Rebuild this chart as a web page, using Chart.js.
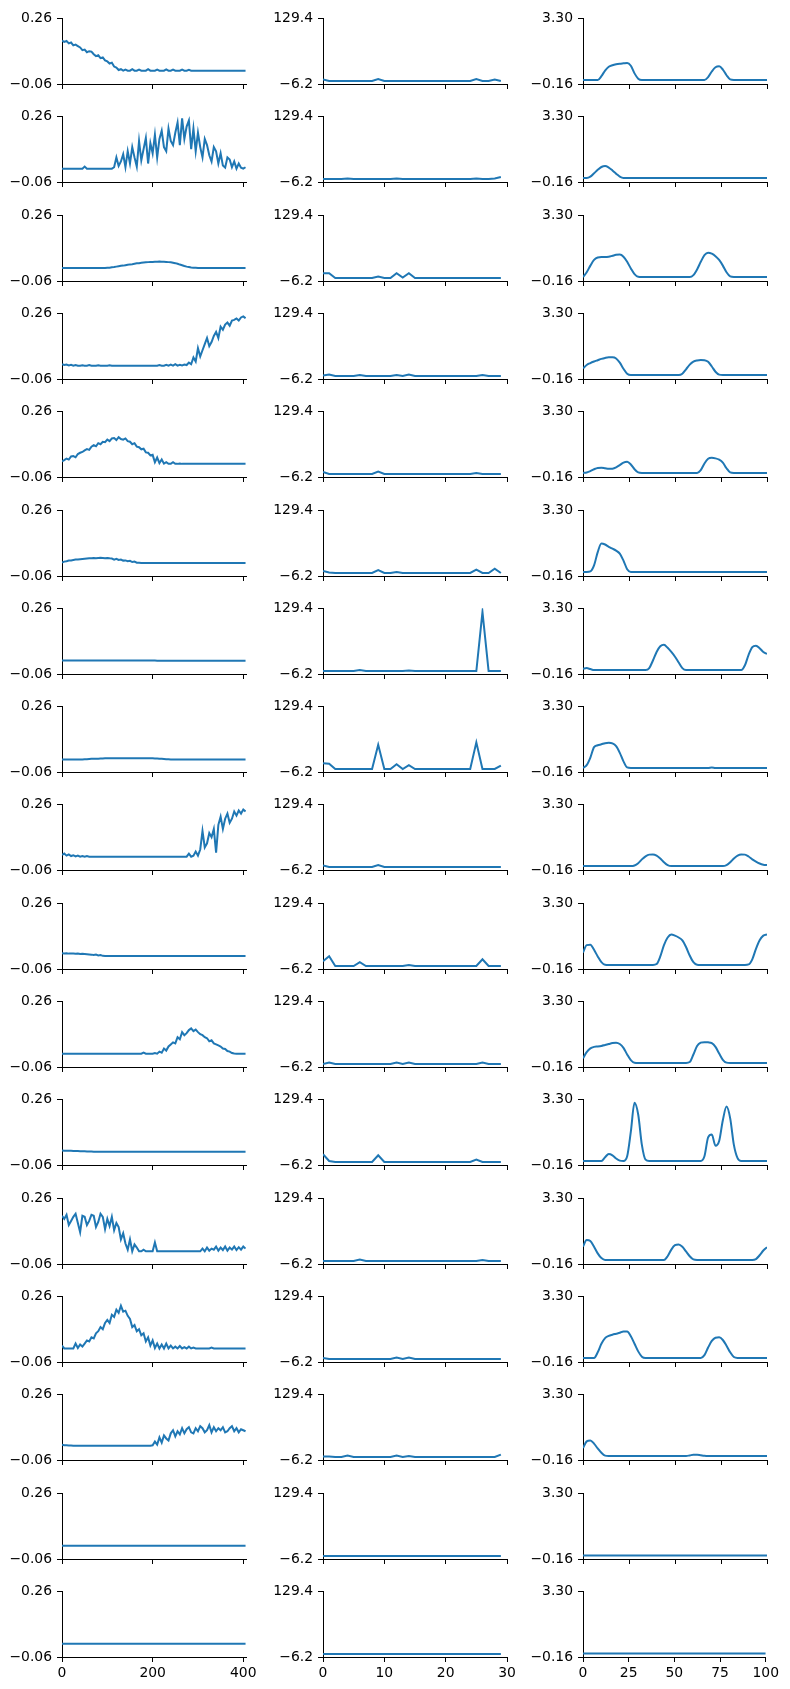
<!DOCTYPE html>
<html>
<head>
<meta charset="utf-8">
<script src="https://cdn.jsdelivr.net/npm/chart.js@4.4.1/dist/chart.umd.min.js"></script>
<style>
  body { margin: 0; background: #fff; }
  #board { position: relative; width: 790px; height: 1689px; overflow: hidden; }
  #board canvas { position: absolute; }
</style>
</head>
<body>
<div id="board"></div>
<script>
// ---- tick labels ----
const leftXTicks = [0, 200, 400];
const midXTicks = [0, 10, 20, 30];
const rightXTicks = [0, 25, 50, 75, 100];
const leftYTicks = [-0.06, 0.26];
const midYTicks = [-6.2, 129.4];
const rightYTicks = [-0.16, 3.30];
const leftYText = ['\u22120.06', '0.26'];
const midYText = ['\u22126.2', '129.4'];
const rightYText = ['\u22120.16', '3.30'];

// ---- left column: one value every 5 steps, x = 0..405 ----
const left01 = [
  0.152,0.145,0.150,0.138,0.142,0.128,0.132,0.125,0.118,0.105,
  0.108,0.095,0.100,0.098,0.085,0.076,0.080,0.066,0.070,0.055,
  0.050,0.040,0.044,0.025,0.020,0.008,0.012,0.005,0.010,0.005,
  0.005,0.012,0.005,0.005,0.010,0.005,0.005,0.005,0.012,0.005,
  0.005,0.005,0.010,0.005,0.005,0.005,0.011,0.005,0.005,0.010,
  0.005,0.005,0.005,0.010,0.005,0.005,0.009,0.005,0.005,0.005,
  0.005,0.005,0.005,0.005,0.005,0.005,0.005,0.005,0.005,0.005,
  0.005,0.005,0.005,0.005,0.005,0.005,0.005,0.005,0.005,0.005,
  0.005,0.005];
const left02 = [
  0.005,0.005,0.005,0.005,0.005,0.005,0.005,0.005,0.005,0.005,
  0.015,0.005,0.005,0.005,0.005,0.005,0.005,0.005,0.005,0.005,
  0.005,0.005,0.005,0.012,0.060,0.018,0.040,0.075,0.012,0.090,
  0.030,0.110,0.060,0.015,0.140,0.045,0.100,0.155,0.030,0.130,
  0.080,0.170,0.060,0.150,0.190,0.110,0.090,0.200,0.140,0.120,
  0.180,0.230,0.120,0.250,0.150,0.210,0.240,0.100,0.200,0.090,
  0.180,0.110,0.060,0.150,0.120,0.070,0.040,0.110,0.090,0.030,
  0.080,0.020,0.010,0.060,0.050,0.012,0.040,0.005,0.030,0.010,
  0.005,0.012];
const left03 = [
  0.003,0.003,0.003,0.003,0.003,0.003,0.003,0.003,0.003,0.003,
  0.003,0.003,0.003,0.003,0.003,0.003,0.003,0.003,0.003,0.003,
  0.004,0.005,0.007,0.008,0.010,0.012,0.014,0.015,0.017,0.019,
  0.021,0.022,0.024,0.026,0.027,0.029,0.030,0.031,0.032,0.033,
  0.033,0.034,0.034,0.035,0.034,0.034,0.033,0.032,0.031,0.029,
  0.027,0.024,0.020,0.017,0.013,0.010,0.008,0.006,0.005,0.004,
  0.003,0.003,0.003,0.003,0.003,0.003,0.003,0.003,0.003,0.003,
  0.003,0.003,0.003,0.003,0.003,0.003,0.003,0.003,0.003,0.003,
  0.003,0.003];
const left04 = [
  0.012,0.008,0.010,0.006,0.009,0.005,0.008,0.005,0.005,0.007,
  0.005,0.005,0.008,0.005,0.005,0.005,0.007,0.005,0.005,0.005,
  0.005,0.007,0.005,0.005,0.005,0.005,0.005,0.005,0.005,0.005,
  0.005,0.005,0.005,0.005,0.005,0.005,0.005,0.005,0.005,0.005,
  0.005,0.005,0.005,0.008,0.005,0.005,0.009,0.005,0.010,0.005,
  0.012,0.005,0.009,0.006,0.010,0.008,0.020,0.012,0.045,0.025,
  0.090,0.050,0.080,0.110,0.140,0.100,0.120,0.150,0.170,0.140,
  0.195,0.180,0.205,0.215,0.200,0.225,0.228,0.235,0.225,0.240,
  0.245,0.236];
const left05 = [
  0.016,0.022,0.030,0.025,0.040,0.042,0.036,0.052,0.058,0.062,
  0.070,0.076,0.072,0.088,0.095,0.090,0.105,0.100,0.112,0.110,
  0.122,0.115,0.128,0.130,0.120,0.134,0.125,0.122,0.128,0.115,
  0.112,0.100,0.105,0.088,0.085,0.075,0.078,0.060,0.058,0.045,
  0.048,0.012,0.035,0.008,0.025,0.005,0.012,0.004,0.004,0.012,
  0.004,0.004,0.006,0.004,0.004,0.004,0.004,0.004,0.004,0.004,
  0.004,0.004,0.004,0.004,0.004,0.004,0.004,0.004,0.004,0.004,
  0.004,0.004,0.004,0.004,0.004,0.004,0.004,0.004,0.004,0.004,
  0.004,0.004];
const left06 = [
  0.006,0.010,0.012,0.015,0.016,0.018,0.020,0.021,0.022,0.023,
  0.024,0.025,0.026,0.027,0.028,0.027,0.028,0.029,0.028,0.027,
  0.028,0.026,0.025,0.020,0.024,0.018,0.020,0.015,0.016,0.012,
  0.014,0.008,0.010,0.005,0.004,0.003,0.003,0.003,0.003,0.003,
  0.003,0.003,0.003,0.003,0.003,0.003,0.003,0.003,0.003,0.003,
  0.003,0.003,0.003,0.003,0.003,0.003,0.003,0.003,0.003,0.003,
  0.003,0.003,0.003,0.003,0.003,0.003,0.003,0.003,0.003,0.003,
  0.003,0.003,0.003,0.003,0.003,0.003,0.003,0.003,0.003,0.003,
  0.003,0.003];
const left07 = [
  0.006,0.006,0.006,0.006,0.006,0.006,0.006,0.006,0.006,0.006,
  0.006,0.006,0.006,0.006,0.006,0.006,0.006,0.006,0.006,0.006,
  0.006,0.006,0.006,0.006,0.006,0.006,0.006,0.006,0.006,0.006,
  0.006,0.006,0.006,0.006,0.006,0.006,0.006,0.006,0.006,0.006,
  0.006,0.006,0.005,0.005,0.005,0.005,0.004,0.004,0.004,0.004,
  0.004,0.004,0.004,0.004,0.004,0.004,0.004,0.004,0.004,0.004,
  0.004,0.004,0.004,0.004,0.004,0.004,0.004,0.004,0.004,0.004,
  0.004,0.004,0.004,0.004,0.004,0.004,0.004,0.004,0.004,0.004,
  0.004,0.004];
const left08 = [
  0.001,0.001,0.001,0.001,0.001,0.001,0.001,0.001,0.001,0.001,
  0.002,0.002,0.003,0.004,0.004,0.005,0.005,0.006,0.006,0.007,
  0.007,0.007,0.007,0.007,0.007,0.007,0.007,0.007,0.007,0.007,
  0.007,0.007,0.007,0.007,0.007,0.007,0.007,0.007,0.007,0.007,
  0.007,0.006,0.006,0.005,0.004,0.003,0.002,0.002,0.001,0.001,
  0.001,0.001,0.001,0.001,0.001,0.001,0.001,0.001,0.001,0.001,
  0.001,0.001,0.001,0.001,0.001,0.001,0.001,0.001,0.001,0.001,
  0.001,0.001,0.001,0.001,0.001,0.001,0.001,0.001,0.001,0.001,
  0.001,0.001];
const left09 = [
  0.014,0.020,0.010,0.016,0.008,0.012,0.006,0.010,0.005,0.008,
  0.005,0.008,0.005,0.005,0.005,0.005,0.005,0.005,0.005,0.005,
  0.005,0.005,0.005,0.005,0.005,0.005,0.005,0.005,0.005,0.005,
  0.005,0.005,0.005,0.005,0.005,0.005,0.005,0.005,0.005,0.005,
  0.005,0.005,0.005,0.005,0.005,0.005,0.005,0.005,0.005,0.005,
  0.005,0.005,0.005,0.005,0.005,0.005,0.020,0.005,0.010,0.030,
  0.010,0.040,0.130,0.050,0.070,0.120,0.100,0.140,0.025,0.160,
  0.200,0.140,0.190,0.215,0.170,0.190,0.225,0.205,0.230,0.215,
  0.235,0.225];
const left10 = [
  0.017,0.016,0.017,0.015,0.016,0.015,0.014,0.015,0.013,0.014,
  0.013,0.012,0.011,0.010,0.008,0.010,0.006,0.008,0.004,0.003,
  0.003,0.003,0.003,0.003,0.003,0.003,0.003,0.003,0.003,0.003,
  0.003,0.003,0.003,0.003,0.003,0.003,0.003,0.003,0.003,0.003,
  0.003,0.003,0.003,0.003,0.003,0.003,0.003,0.003,0.003,0.003,
  0.003,0.003,0.003,0.003,0.003,0.003,0.003,0.003,0.003,0.003,
  0.003,0.003,0.003,0.003,0.003,0.003,0.003,0.003,0.003,0.003,
  0.003,0.003,0.003,0.003,0.003,0.003,0.003,0.003,0.003,0.003,
  0.003,0.003];
const left11 = [
  0.005,0.005,0.005,0.005,0.005,0.005,0.005,0.005,0.005,0.005,
  0.005,0.005,0.005,0.005,0.005,0.005,0.005,0.005,0.005,0.005,
  0.005,0.005,0.005,0.005,0.005,0.005,0.005,0.005,0.005,0.005,
  0.005,0.005,0.005,0.005,0.005,0.005,0.010,0.005,0.005,0.005,
  0.005,0.008,0.005,0.015,0.010,0.030,0.020,0.040,0.050,0.060,
  0.055,0.085,0.075,0.110,0.095,0.105,0.120,0.128,0.115,0.122,
  0.110,0.100,0.095,0.085,0.080,0.065,0.070,0.055,0.050,0.045,
  0.040,0.030,0.028,0.018,0.015,0.008,0.006,0.005,0.005,0.005,
  0.005,0.005];
const left12 = [
  0.011,0.010,0.010,0.009,0.009,0.008,0.008,0.008,0.007,0.007,
  0.007,0.006,0.006,0.006,0.005,0.005,0.005,0.005,0.005,0.004,
  0.004,0.004,0.004,0.004,0.004,0.004,0.004,0.004,0.004,0.004,
  0.004,0.004,0.004,0.004,0.004,0.004,0.004,0.004,0.004,0.004,
  0.004,0.004,0.004,0.004,0.004,0.004,0.004,0.004,0.004,0.004,
  0.004,0.004,0.004,0.004,0.004,0.004,0.004,0.004,0.004,0.004,
  0.004,0.004,0.004,0.004,0.004,0.004,0.004,0.004,0.004,0.004,
  0.004,0.004,0.004,0.004,0.004,0.004,0.005,0.004,0.005,0.004,
  0.005,0.005];
const left13 = [
  0.175,0.160,0.180,0.130,0.150,0.170,0.185,0.140,0.095,0.175,
  0.170,0.130,0.150,0.180,0.175,0.120,0.145,0.185,0.170,0.110,
  0.160,0.125,0.170,0.105,0.140,0.120,0.060,0.090,0.040,0.010,
  0.060,0.002,0.035,0.020,0.002,0.002,0.010,0.002,0.002,0.002,
  0.002,0.045,0.002,0.002,0.002,0.002,0.002,0.002,0.002,0.002,
  0.002,0.002,0.002,0.002,0.002,0.002,0.002,0.002,0.002,0.002,
  0.002,0.002,0.015,0.002,0.020,0.005,0.015,0.010,0.025,0.005,
  0.020,0.008,0.025,0.005,0.020,0.010,0.025,0.008,0.022,0.010,
  0.025,0.015];
const left14 = [
  0.020,0.006,0.006,0.006,0.006,0.006,0.030,0.008,0.025,0.015,
  0.030,0.045,0.040,0.060,0.055,0.080,0.090,0.110,0.100,0.130,
  0.145,0.130,0.170,0.160,0.195,0.180,0.214,0.185,0.190,0.165,
  0.150,0.110,0.120,0.090,0.100,0.070,0.080,0.040,0.060,0.020,
  0.045,0.008,0.030,0.006,0.025,0.006,0.030,0.006,0.020,0.006,
  0.015,0.006,0.018,0.006,0.012,0.006,0.015,0.006,0.010,0.006,
  0.006,0.006,0.006,0.006,0.006,0.006,0.010,0.006,0.006,0.006,
  0.006,0.006,0.006,0.006,0.006,0.006,0.006,0.006,0.006,0.006,
  0.006,0.006];
const left15 = [
  0.015,0.012,0.012,0.011,0.011,0.010,0.010,0.010,0.010,0.010,
  0.010,0.010,0.010,0.010,0.010,0.010,0.010,0.010,0.010,0.010,
  0.010,0.010,0.010,0.010,0.010,0.010,0.010,0.010,0.010,0.010,
  0.010,0.010,0.010,0.010,0.010,0.010,0.010,0.010,0.010,0.010,
  0.012,0.030,0.015,0.050,0.025,0.060,0.045,0.035,0.070,0.085,
  0.055,0.080,0.065,0.095,0.070,0.090,0.100,0.075,0.070,0.095,
  0.080,0.105,0.095,0.075,0.085,0.110,0.075,0.100,0.080,0.095,
  0.085,0.100,0.075,0.080,0.095,0.105,0.080,0.095,0.075,0.090,
  0.085,0.080];
const left16 = [
  0.005,0.005,0.005,0.005,0.005,0.005,0.005,0.005,0.005,0.005,
  0.005,0.005,0.005,0.005,0.005,0.005,0.005,0.005,0.005,0.005,
  0.005,0.005,0.005,0.005,0.005,0.005,0.005,0.005,0.005,0.005,
  0.005,0.005,0.005,0.005,0.005,0.005,0.005,0.005,0.005,0.005,
  0.005,0.005,0.005,0.005,0.005,0.005,0.005,0.005,0.005,0.005,
  0.005,0.005,0.005,0.005,0.005,0.005,0.005,0.005,0.005,0.005,
  0.005,0.005,0.005,0.005,0.005,0.005,0.005,0.005,0.005,0.005,
  0.005,0.005,0.005,0.005,0.005,0.005,0.005,0.005,0.005,0.005,
  0.005,0.005];
const left17 = [
  0.005,0.005,0.005,0.005,0.005,0.005,0.005,0.005,0.005,0.005,
  0.005,0.005,0.005,0.005,0.005,0.005,0.005,0.005,0.005,0.005,
  0.005,0.005,0.005,0.005,0.005,0.005,0.005,0.005,0.005,0.005,
  0.005,0.005,0.005,0.005,0.005,0.005,0.005,0.005,0.005,0.005,
  0.005,0.005,0.005,0.005,0.005,0.005,0.005,0.005,0.005,0.005,
  0.005,0.005,0.005,0.005,0.005,0.005,0.005,0.005,0.005,0.005,
  0.005,0.005,0.005,0.005,0.005,0.005,0.005,0.005,0.005,0.005,
  0.005,0.005,0.005,0.005,0.005,0.005,0.005,0.005,0.005,0.005,
  0.005,0.005];

// ---- middle column: x = 0..29 ----
const mid01 = [3,0,0,0,0,0,0,0,0,4,0,0,0,0,0,0,0,0,0,0,0,0,0,0,0,4,0,0,3,0];
const mid02 = [0,0,0,0,1,0,0,0,0,0,0,0,1,0,0,0,0,0,0,0,0,0,0,0,0,1,0,0,1,4];
const mid03 = [10,10,0,0,0,0,0,0,0,3,0,0,10,1,10,0,0,0,0,0,0,0,0,0,0,0,0,0,0,0];
const mid04 = [1,3,0,0,0,0,2,0,0,0,0,0,2,0,3,0,0,0,0,0,0,0,0,0,0,0,2,0,0,0];
const mid05 = [4,0,0,0,0,0,0,0,0,5,0,0,0,0,0,0,0,0,0,0,0,0,0,0,0,2,0,0,0,0];
const mid06 = [4,1,0,0,0,0,0,0,0,6,0,0,2,0,0,0,0,0,0,0,0,0,0,0,0,7,0,0,9,0];
const mid07 = [0,0,0,0,0,0,2,0,0,0,0,0,0,0,1,0,0,0,0,0,0,0,0,0,0,0,122,0,0,0];
const mid08 = [12,11,0,0,0,0,0,0,0,50,0,0,10,0,8,0,0,0,0,0,0,0,0,0,0,55,0,0,0,7];
const mid09 = [3,0,0,0,0,0,0,0,0,4,0,0,0,0,0,0,0,0,0,0,0,0,0,0,0,0,0,0,0,0];
const mid10 = [10,20,0,0,0,0,8,0,0,0,0,0,0,0,2,0,0,0,0,0,0,0,0,0,0,0,14,0,0,0];
const mid11 = [0,3,0,0,0,0,0,0,0,0,0,0,3,0,3,0,0,0,0,0,0,0,0,0,0,0,3,0,0,0];
const mid12 = [16,2,0,0,0,0,0,0,0,14,0,0,0,0,0,0,0,0,0,0,0,0,0,0,0,5,0,0,0,0];
const mid13 = [0,0,0,0,0,0,3,0,0,0,0,0,0,0,0,0,0,0,0,0,0,0,0,0,0,0,2,0,0,0];
const mid14 = [2,0,0,0,0,0,0,0,0,0,0,0,3,0,3,0,0,0,0,0,0,0,0,0,0,0,0,0,0,0];
const mid15 = [1,1,0,0,3,0,0,0,0,0,0,0,3,0,2,0,0,0,0,0,0,0,0,0,0,0,0,0,0,5];
const mid16 = [0,0,0,0,0,0,0,0,0,0,0,0,0,0,0,0,0,0,0,0,0,0,0,0,0,0,0,0,0,0];
const mid17 = [0,0,0,0,0,0,0,0,0,0,0,0,0,0,0,0,0,0,0,0,0,0,0,0,0,0,0,0,0,0];

// ---- right column: one value every 2 steps, x = 0..100 ----
const right01 = [
  0.05,0.05,0.05,0.05,0.05,0.25,0.55,0.75,0.83,0.88,
  0.91,0.93,0.95,0.80,0.40,0.12,0.05,0.05,0.05,0.05,
  0.05,0.05,0.05,0.05,0.05,0.05,0.05,0.05,0.05,0.05,
  0.05,0.05,0.05,0.05,0.20,0.50,0.72,0.77,0.60,0.30,
  0.08,0.05,0.05,0.05,0.05,0.05,0.05,0.05,0.05,0.05,
  0.05];
const right02 = [
  0.05,0.05,0.12,0.30,0.48,0.63,0.68,0.60,0.45,0.28,
  0.12,0.05,0.05,0.05,0.05,0.05,0.05,0.05,0.05,0.05,
  0.05,0.05,0.05,0.05,0.05,0.05,0.05,0.05,0.05,0.05,
  0.05,0.05,0.05,0.05,0.05,0.05,0.05,0.05,0.05,0.05,
  0.05,0.05,0.05,0.05,0.05,0.05,0.05,0.05,0.05,0.05,
  0.05];
const right03 = [
  0.05,0.30,0.65,0.95,1.08,1.10,1.10,1.12,1.17,1.22,
  1.23,1.12,0.85,0.50,0.20,0.06,0.05,0.05,0.05,0.05,
  0.05,0.05,0.05,0.05,0.05,0.05,0.05,0.05,0.05,0.05,
  0.15,0.45,0.85,1.20,1.33,1.28,1.15,0.95,0.65,0.30,
  0.08,0.05,0.05,0.05,0.05,0.05,0.05,0.05,0.05,0.05,
  0.05];
const right04 = [
  0.40,0.58,0.68,0.76,0.83,0.90,0.95,0.98,0.98,0.92,
  0.70,0.38,0.12,0.05,0.05,0.05,0.05,0.05,0.05,0.05,
  0.05,0.05,0.05,0.05,0.05,0.05,0.05,0.12,0.35,0.60,
  0.76,0.82,0.84,0.83,0.75,0.50,0.22,0.07,0.05,0.05,
  0.05,0.05,0.05,0.05,0.05,0.05,0.05,0.05,0.05,0.05,
  0.05];
const right05 = [
  0.05,0.08,0.15,0.25,0.32,0.33,0.30,0.27,0.28,0.35,
  0.47,0.60,0.64,0.50,0.25,0.08,0.05,0.05,0.05,0.05,
  0.05,0.05,0.05,0.05,0.05,0.05,0.05,0.05,0.05,0.05,
  0.05,0.05,0.20,0.55,0.80,0.85,0.82,0.75,0.60,0.30,
  0.08,0.05,0.05,0.05,0.05,0.05,0.05,0.05,0.05,0.05,
  0.05];
const right06 = [
  0.05,0.05,0.08,0.40,1.10,1.55,1.50,1.38,1.28,1.18,
  1.02,0.65,0.20,0.05,0.05,0.05,0.05,0.05,0.05,0.05,
  0.05,0.05,0.05,0.05,0.05,0.05,0.05,0.05,0.05,0.05,
  0.05,0.05,0.05,0.05,0.05,0.05,0.05,0.05,0.05,0.05,
  0.05,0.05,0.05,0.05,0.05,0.05,0.05,0.05,0.05,0.05,
  0.05];
const right07 = [
  0.12,0.15,0.10,0.05,0.05,0.05,0.05,0.05,0.05,0.05,
  0.05,0.05,0.05,0.05,0.05,0.05,0.05,0.05,0.15,0.55,
  1.00,1.30,1.38,1.22,1.00,0.75,0.45,0.15,0.05,0.05,
  0.05,0.05,0.05,0.05,0.05,0.05,0.05,0.05,0.05,0.05,
  0.05,0.05,0.05,0.05,0.30,0.85,1.25,1.33,1.20,1.00,
  0.90];
const right08 = [
  0.05,0.20,0.60,1.15,1.25,1.30,1.36,1.38,1.35,1.20,
  0.85,0.40,0.08,0.05,0.05,0.05,0.05,0.05,0.05,0.05,
  0.05,0.05,0.05,0.05,0.05,0.05,0.05,0.05,0.05,0.05,
  0.05,0.05,0.05,0.05,0.05,0.08,0.05,0.05,0.05,0.05,
  0.05,0.05,0.05,0.05,0.05,0.05,0.05,0.05,0.05,0.05,
  0.05];
const right09 = [
  0.05,0.05,0.05,0.05,0.05,0.05,0.05,0.05,0.05,0.05,
  0.05,0.05,0.05,0.05,0.08,0.20,0.40,0.56,0.65,0.66,
  0.60,0.45,0.25,0.10,0.05,0.05,0.05,0.05,0.05,0.05,
  0.05,0.05,0.05,0.05,0.05,0.05,0.05,0.05,0.05,0.10,
  0.25,0.45,0.60,0.66,0.65,0.55,0.40,0.28,0.18,0.12,
  0.10];
const right10 = [
  0.71,1.10,1.12,0.85,0.50,0.20,0.06,0.05,0.05,0.05,
  0.05,0.05,0.05,0.05,0.05,0.05,0.05,0.05,0.05,0.05,
  0.10,0.50,1.10,1.50,1.66,1.60,1.50,1.35,1.00,0.55,
  0.20,0.06,0.05,0.05,0.05,0.05,0.05,0.05,0.05,0.05,
  0.05,0.05,0.05,0.05,0.05,0.08,0.35,0.90,1.35,1.60,
  1.66];
const right11 = [
  0.30,0.62,0.82,0.90,0.92,0.95,1.00,1.05,1.10,1.12,
  1.05,0.85,0.50,0.20,0.06,0.05,0.05,0.05,0.05,0.05,
  0.05,0.05,0.05,0.05,0.05,0.05,0.05,0.05,0.05,0.10,
  0.50,0.95,1.12,1.15,1.14,1.10,0.90,0.55,0.22,0.07,
  0.05,0.05,0.05,0.05,0.05,0.05,0.05,0.05,0.05,0.05,
  0.05];
const right12 = [
  0.05,0.05,0.05,0.05,0.05,0.05,0.25,0.42,0.35,0.18,
  0.07,0.05,0.30,1.60,3.12,2.50,0.90,0.12,0.05,0.05,
  0.05,0.05,0.05,0.05,0.05,0.05,0.05,0.05,0.05,0.05,
  0.05,0.05,0.05,0.30,1.30,1.45,0.85,1.10,2.20,2.92,
  2.30,0.90,0.20,0.05,0.05,0.05,0.05,0.05,0.05,0.05,
  0.05];
const right13 = [
  0.76,1.10,1.05,0.75,0.40,0.15,0.05,0.05,0.05,0.05,
  0.05,0.05,0.05,0.05,0.05,0.05,0.05,0.05,0.05,0.05,
  0.05,0.05,0.05,0.25,0.60,0.83,0.87,0.75,0.50,0.25,
  0.08,0.05,0.05,0.05,0.05,0.05,0.05,0.05,0.05,0.05,
  0.05,0.05,0.05,0.05,0.05,0.05,0.05,0.10,0.30,0.55,
  0.72];
const right14 = [
  0.05,0.05,0.05,0.05,0.35,0.80,1.10,1.22,1.28,1.33,
  1.38,1.45,1.45,1.20,0.80,0.40,0.12,0.05,0.05,0.05,
  0.05,0.05,0.05,0.05,0.05,0.05,0.05,0.05,0.05,0.05,
  0.05,0.05,0.05,0.20,0.60,0.95,1.12,1.14,1.00,0.70,
  0.35,0.10,0.05,0.05,0.05,0.05,0.05,0.05,0.05,0.05,
  0.05];
const right15 = [
  0.47,0.82,0.87,0.70,0.45,0.22,0.07,0.05,0.05,0.05,
  0.05,0.05,0.05,0.05,0.05,0.05,0.05,0.05,0.05,0.05,
  0.05,0.05,0.05,0.05,0.05,0.05,0.05,0.05,0.05,0.08,
  0.12,0.12,0.09,0.06,0.05,0.05,0.05,0.05,0.05,0.05,
  0.05,0.05,0.05,0.05,0.05,0.05,0.05,0.05,0.05,0.05,
  0.05];
const right16 = [
  0.02,0.02,0.02,0.02,0.02,0.02,0.02,0.02,0.02,0.02,
  0.02,0.02,0.02,0.02,0.02,0.02,0.02,0.02,0.02,0.02,
  0.02,0.02,0.02,0.02,0.02,0.02,0.02,0.02,0.02,0.02,
  0.02,0.02,0.02,0.02,0.02,0.02,0.02,0.02,0.02,0.02,
  0.02,0.02,0.02,0.02,0.02,0.02,0.02,0.02,0.02,0.02,
  0.02];
const right17 = [
  0.02,0.02,0.02,0.02,0.02,0.02,0.02,0.02,0.02,0.02,
  0.02,0.02,0.02,0.02,0.02,0.02,0.02,0.02,0.02,0.02,
  0.02,0.02,0.02,0.02,0.02,0.02,0.02,0.02,0.02,0.02,
  0.02,0.02,0.02,0.02,0.02,0.02,0.02,0.02,0.02,0.02,
  0.02,0.02,0.02,0.02,0.02,0.02,0.02,0.02,0.02,0.02,
  0.02];

const leftRows = [left01, left02, left03, left04, left05, left06, left07, left08, left09,
  left10, left11, left12, left13, left14, left15, left16, left17];
const midRows = [mid01, mid02, mid03, mid04, mid05, mid06, mid07, mid08, mid09,
  mid10, mid11, mid12, mid13, mid14, mid15, mid16, mid17];
const rightRows = [right01, right02, right03, right04, right05, right06, right07, right08, right09,
  right10, right11, right12, right13, right14, right15, right16, right17];

Chart.defaults.font.family = "'DejaVu Sans', sans-serif";
Chart.defaults.font.size = 13.9;
Chart.defaults.color = '#000';

const board = document.getElementById('board');
const plotW = 184;
const plotH = 69;

const columns = [
  { rows: leftRows, step: 5, xMax: 406, xTicks: leftXTicks, yTicks: leftYTicks, yText: leftYText, smooth: false, left: 62 },
  { rows: midRows, step: 1, xMax: 30, xTicks: midXTicks, yTicks: midYTicks, yText: midYText, smooth: false, left: 323 },
  { rows: rightRows, step: 2, xMax: 100, xTicks: rightXTicks, yTicks: rightYTicks, yText: rightYText, smooth: true, left: 583 },
];

const axisGrid = { display: true, drawOnChartArea: false, drawTicks: true, tickLength: 5, tickWidth: 1, tickColor: '#000' };
const axisBorder = { display: true, color: '#000', width: 1 };

const drawPanel = (col, r) => {
  const values = col.rows[r];
  const isBottom = r === col.rows.length - 1;
  const top = Math.round(15 + r * 98.3);

  const canvas = document.createElement('canvas');
  canvas.width = plotW + 75;
  canvas.height = plotH + 40;
  canvas.style.left = (col.left - 60) + 'px';
  canvas.style.top = (top - 10) + 'px';
  board.appendChild(canvas);

  new Chart(canvas, {
    type: 'line',
    data: {
      datasets: [{
        data: values.map((v, i) => ({ x: i * col.step, y: v })),
        borderColor: '#1f77b4',
        borderWidth: 2,
        pointRadius: 0,
        fill: false,
        tension: 0,
        cubicInterpolationMode: col.smooth ? 'monotone' : 'default',
      }],
    },
    options: {
      responsive: false,
      animation: false,
      events: [],
      layout: { padding: { left: 0, top: 10, right: 15, bottom: 0 } },
      plugins: { legend: { display: false }, tooltip: { enabled: false } },
      scales: {
        x: {
          type: 'linear',
          min: 0,
          max: col.xMax,
          afterFit: (s) => { s.height = 30; },
          afterBuildTicks: (s) => { s.ticks = col.xTicks.map((v) => ({ value: v })); },
          ticks: { display: isBottom, padding: 3, autoSkip: false, maxRotation: 0, callback: (v) => String(v) },
          grid: axisGrid,
          border: axisBorder,
        },
        y: {
          type: 'linear',
          min: col.yTicks[0],
          max: col.yTicks[1],
          afterFit: (s) => { s.width = 60; },
          afterBuildTicks: (s) => { s.ticks = col.yTicks.map((v) => ({ value: v })); },
          ticks: { padding: 5, autoSkip: false, callback: (v, i) => col.yText[i] },
          grid: axisGrid,
          border: axisBorder,
        },
      },
    },
  });
};

columns.forEach((col) => {
  col.rows.forEach((_, r) => drawPanel(col, r));
});
</script>
</body>
</html>
